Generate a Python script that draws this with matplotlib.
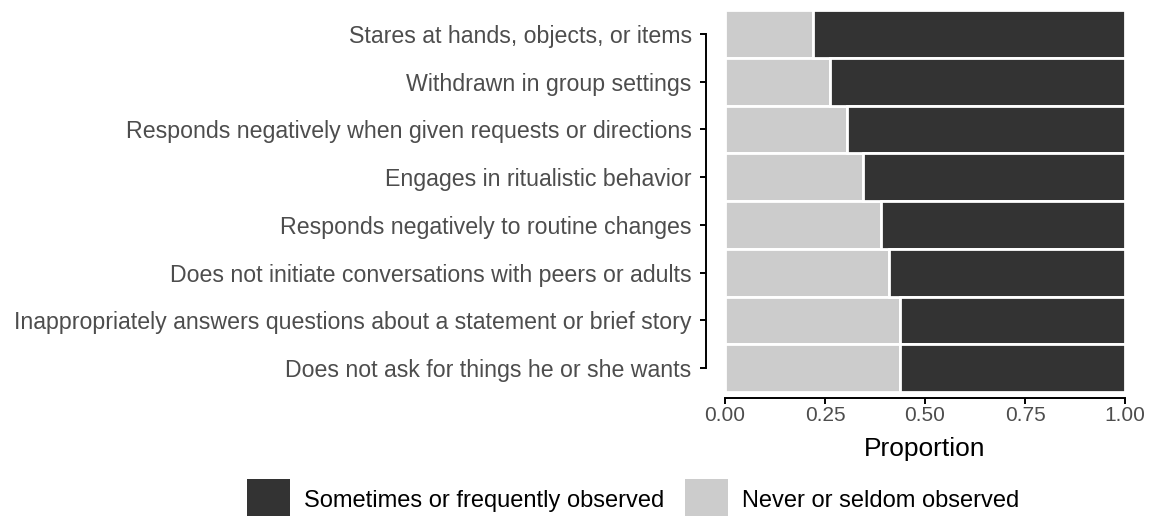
import matplotlib
matplotlib.use('Agg')
import matplotlib.pyplot as plt
from matplotlib.patches import Patch
import numpy

plt.rcParams['font.family'] = ['Liberation Sans', 'DejaVu Sans']

# Data (top to bottom as shown)
BEHAVIOURS = [
    'Stares at hands, objects, or items',
    'Withdrawn in group settings',
    'Responds negatively when given requests or directions',
    'Engages in ritualistic behavior',
    'Responds negatively to routine changes',
    'Does not initiate conversations with peers or adults',
    'Inappropriately answers questions about a statement or brief story',
    'Does not ask for things he or she wants',
]
NEVER_SELDOM = [0.22, 0.263, 0.305, 0.345, 0.39, 0.41, 0.437, 0.437]
SOMETIMES_FREQ = [1 - v for v in NEVER_SELDOM]
X_TICKS = [0.0, 0.25, 0.5, 0.75, 1.0]

DARK = '#333333'
LIGHT = '#cccccc'
TICK_GREY = '#4d4d4d'

fig = plt.figure(figsize=(11.56, 5.16), dpi=100)
ax = fig.add_axes([725 / 1156, 1 - 392 / 516, 400 / 1156, 382 / 516])

n = len(BEHAVIOURS)
y = numpy.arange(n)[::-1]
ax.barh(y, NEVER_SELDOM, height=1.0, color=LIGHT, edgecolor='white', linewidth=2)
ax.barh(y, SOMETIMES_FREQ, left=NEVER_SELDOM, height=1.0, color=DARK,
        edgecolor='white', linewidth=2)

ax.set_xlim(0, 1)
ax.set_ylim(-0.5, n - 0.5)
ax.set_yticks(y)
ax.set_yticklabels(BEHAVIOURS)
ax.set_xticks(X_TICKS)
ax.set_xticklabels([f'{t:.2f}' for t in X_TICKS])
ax.set_xlabel('Proportion', fontsize=19, color='black', labelpad=9)

for side in ('top', 'right'):
    ax.spines[side].set_visible(False)
ax.spines['left'].set_position(('outward', 14))
ax.spines['bottom'].set_position(('outward', 4))
ax.spines['left'].set_bounds(0, n - 1)
ax.spines['bottom'].set_bounds(0, 1)
for side in ('left', 'bottom'):
    ax.spines[side].set_linewidth(1.4)
ax.tick_params(axis='both', length=4, width=1.4, labelcolor=TICK_GREY)
ax.tick_params(axis='y', labelsize=16.7, pad=6)
ax.tick_params(axis='x', labelsize=15, pad=2)

handles = [Patch(facecolor=DARK, label='Sometimes or frequently observed'),
           Patch(facecolor=LIGHT, label='Never or seldom observed')]
fig.legend(handles=handles, loc='center left', ncol=2, frameon=False,
           fontsize=17, bbox_to_anchor=(247 / 1156, 1 - 500 / 516),
           borderpad=0, borderaxespad=0, handlelength=1.8,
           handleheight=2.3, columnspacing=0.9, handletextpad=0.6)

fig.savefig('out.png', dpi=100)
